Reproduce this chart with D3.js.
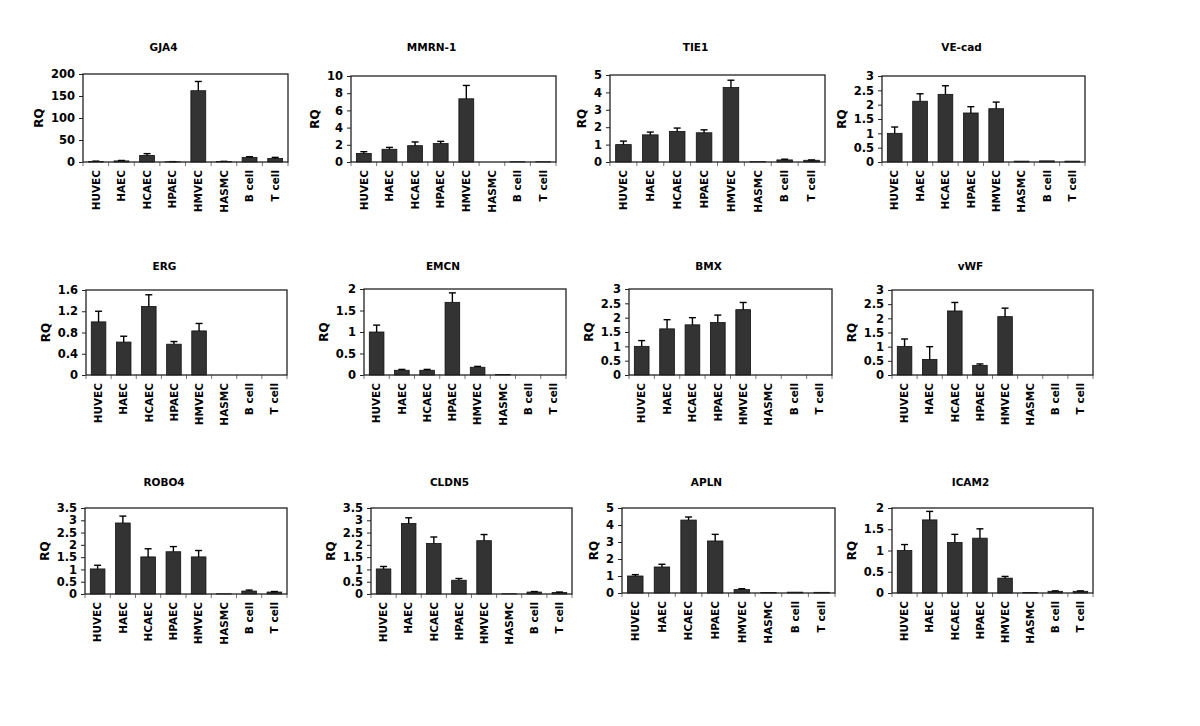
<!DOCTYPE html>
<html>
<head>
<meta charset="utf-8">
<script src="https://cdn.jsdelivr.net/npm/d3@7"></script>
<style>
  body { margin: 0; background: #fff; }
  svg text { font-family: "DejaVu Sans", Verdana, sans-serif; font-weight: bold; fill: #000; }
</style>
</head>
<body>
<svg id="chart" width="1200" height="726"></svg>
<script>
// cell types on every x axis
const cells = ["HUVEC", "HAEC", "HCAEC", "HPAEC", "HMVEC", "HASMC", "B cell", "T cell"];

// panel titles, y max and tick step
const genes = ["GJA4", "MMRN-1", "TIE1", "VE-cad", "ERG", "EMCN", "BMX", "vWF", "ROBO4", "CLDN5", "APLN", "ICAM2"];
const yMax  = [200, 10, 5, 3, 1.6, 2, 3, 3, 3.5, 3.5, 5, 2];
const yStep = [50, 2, 1, 0.5, 0.4, 0.5, 0.5, 0.5, 0.5, 0.5, 1, 0.5];

// RQ values and upper error
const rqGJA4  = [1, 2.5, 15, 0.5, 162, 1, 10.5, 8];
const erGJA4  = [1, 1, 4, 0.3, 21, 0.5, 1.5, 2.5];
const rqMMRN1 = [1.0, 1.48, 1.9, 2.14, 7.35, 0, 0.03, 0.03];
const erMMRN1 = [0.2, 0.22, 0.43, 0.26, 1.55, 0, 0, 0];
const rqTIE1  = [1.0, 1.56, 1.76, 1.68, 4.28, 0.02, 0.12, 0.1];
const erTIE1  = [0.2, 0.16, 0.19, 0.17, 0.42, 0, 0.04, 0.02];
const rqVEcad = [1.0, 2.12, 2.36, 1.71, 1.86, 0.03, 0.04, 0.03];
const erVEcad = [0.22, 0.26, 0.3, 0.22, 0.23, 0, 0, 0];
const rqERG   = [1.0, 0.62, 1.29, 0.58, 0.83, 0, 0, 0];
const erERG   = [0.2, 0.11, 0.22, 0.05, 0.14, 0, 0, 0];
const rqEMCN  = [1.0, 0.11, 0.11, 1.69, 0.18, 0.01, 0, 0];
const erEMCN  = [0.16, 0.02, 0.02, 0.22, 0.02, 0, 0, 0];
const rqBMX   = [1.0, 1.61, 1.75, 1.83, 2.28, 0, 0, 0];
const erBMX   = [0.2, 0.32, 0.25, 0.26, 0.25, 0, 0, 0];
const rqVWF   = [1.01, 0.55, 2.26, 0.34, 2.06, 0, 0, 0];
const erVWF   = [0.26, 0.45, 0.3, 0.05, 0.3, 0, 0, 0];
const rqROBO4 = [1.02, 2.89, 1.51, 1.72, 1.51, 0.01, 0.12, 0.08];
const erROBO4 = [0.15, 0.28, 0.33, 0.21, 0.26, 0, 0.04, 0.02];
const rqCLDN5 = [1.02, 2.87, 2.06, 0.56, 2.17, 0.01, 0.08, 0.06];
const erCLDN5 = [0.1, 0.23, 0.26, 0.07, 0.25, 0, 0.02, 0.02];
const rqAPLN  = [1.0, 1.53, 4.29, 3.06, 0.2, 0.03, 0.05, 0.04];
const erAPLN  = [0.08, 0.16, 0.18, 0.39, 0.05, 0, 0, 0];
const rqICAM2 = [1.0, 1.72, 1.19, 1.29, 0.35, 0.01, 0.04, 0.04];
const erICAM2 = [0.14, 0.2, 0.19, 0.22, 0.04, 0, 0.01, 0.01];

const values = [rqGJA4, rqMMRN1, rqTIE1, rqVEcad, rqERG, rqEMCN, rqBMX, rqVWF, rqROBO4, rqCLDN5, rqAPLN, rqICAM2];
const errors = [erGJA4, erMMRN1, erTIE1, erVEcad, erERG, erEMCN, erBMX, erVWF, erROBO4, erCLDN5, erAPLN, erICAM2];

// plot box of each panel: left, right, top, bottom
const boxes = [
  [83, 288, 74, 162], [351, 556, 76, 162], [610, 825, 75, 162], [882, 1085, 76, 162],
  [86, 287, 290, 375], [364, 566, 289, 375], [629, 832, 289, 375], [892, 1093, 290, 375],
  [85, 287, 508, 594], [371, 572, 508, 594], [622, 835, 508, 593], [892, 1093, 508, 593]
];
const titleY = [51, 270, 486];

const svg = d3.select("#chart");
const fmt = d3.format("~g");

genes.forEach((gene, k) => {
  const [x0, x1, y0, y1] = boxes[k];
  const g = svg.append("g");

  const x = d3.scaleBand().domain(cells).range([x0, x1]).paddingInner(0.42).paddingOuter(0.21);
  const y = d3.scaleLinear().domain([0, yMax[k]]).range([y1, y0]);

  // title
  g.append("text")
    .attr("x", (x0 + x1) / 2 - 22)
    .attr("y", titleY[Math.floor(k / 4)])
    .attr("text-anchor", "middle")
    .attr("font-size", 10.5)
    .text(gene);

  // y axis
  const ticks = d3.range(0, yMax[k] + 1e-9, yStep[k]);
  const ax = g.append("g")
    .attr("transform", `translate(${x0},0)`)
    .call(d3.axisLeft(y).tickValues(ticks).tickSize(4).tickPadding(4).tickFormat(fmt));
  ax.select(".domain").remove();
  ax.selectAll("line").attr("stroke", "#222");
  ax.selectAll("text").attr("font-size", 11.5);

  let maxW = 0;
  ax.selectAll("text").each(function () { maxW = Math.max(maxW, this.getComputedTextLength()); });

  g.append("text")
    .attr("transform", `translate(${x0 - 8 - maxW - 8},${(y0 + y1) / 2}) rotate(-90)`)
    .attr("text-anchor", "middle")
    .attr("font-size", 12)
    .text("RQ");

  // x ticks at category boundaries
  const step = x.step();
  g.selectAll(".xt")
    .data(d3.range(cells.length + 1))
    .enter().append("line")
    .attr("x1", i => x0 + i * step).attr("x2", i => x0 + i * step)
    .attr("y1", y1).attr("y2", y1 + 4)
    .attr("stroke", "#777");

  // bars
  const data = cells.map((c, i) => ({ c, v: values[k][i], e: errors[k][i] }));
  g.selectAll(".bar")
    .data(data)
    .enter().append("rect")
    .attr("x", d => x(d.c))
    .attr("y", d => y(d.v))
    .attr("width", x.bandwidth())
    .attr("height", d => y(0) - y(d.v))
    .attr("fill", "#333")
    .attr("stroke", "#111")
    .attr("stroke-width", 0.8);

  // error bars (upper only)
  const eb = g.selectAll(".err")
    .data(data.filter(d => d.e > 0))
    .enter().append("g");
  eb.append("line")
    .attr("x1", d => x(d.c) + x.bandwidth() / 2).attr("x2", d => x(d.c) + x.bandwidth() / 2)
    .attr("y1", d => y(d.v)).attr("y2", d => y(d.v + d.e))
    .attr("stroke", "#000").attr("stroke-width", 1.4);
  eb.append("line")
    .attr("x1", d => x(d.c) + x.bandwidth() / 2 - 3.5).attr("x2", d => x(d.c) + x.bandwidth() / 2 + 3.5)
    .attr("y1", d => y(d.v + d.e)).attr("y2", d => y(d.v + d.e))
    .attr("stroke", "#000").attr("stroke-width", 1.4);

  // plot frame
  g.append("rect")
    .attr("x", x0).attr("y", y0)
    .attr("width", x1 - x0).attr("height", y1 - y0)
    .attr("fill", "none")
    .attr("stroke", "#222")
    .attr("stroke-width", 1.3);

  // category labels
  g.selectAll(".lab")
    .data(cells)
    .enter().append("text")
    .attr("transform", c => `translate(${x(c) + x.bandwidth() / 2},${y1 + 8}) rotate(-90)`)
    .attr("dy", "0.35em")
    .attr("text-anchor", "end")
    .attr("font-size", 10.5)
    .text(c => c);
});
</script>
</body>
</html>
